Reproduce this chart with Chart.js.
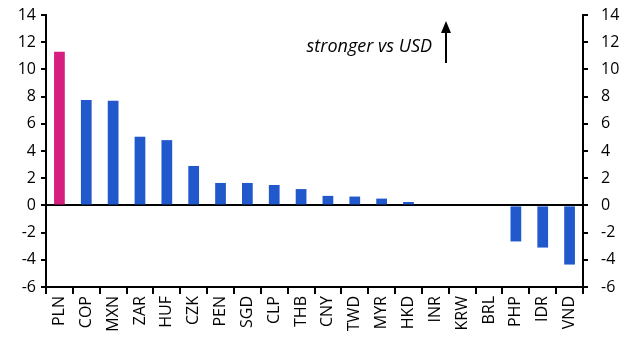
<!DOCTYPE html>
<html>
<head>
<meta charset="utf-8">
<script src="https://cdn.jsdelivr.net/npm/chart.js@4"></script>
<style>
    html, body { margin: 0; padding: 0; background: #fff; }
    #wrap { width: 633px; height: 354px; }
</style>
</head>
<body>
<div id="wrap"><canvas id="chart"></canvas></div>
<script>
// Currency moves vs USD (%)
const currencies = ['PLN', 'COP', 'MXN', 'ZAR', 'HUF', 'CZK', 'PEN', 'SGD', 'CLP', 'THB',
    'CNY', 'TWD', 'MYR', 'HKD', 'INR', 'KRW', 'BRL', 'PHP', 'IDR', 'VND'];
const changes = [11.3, 7.75, 7.7, 5.05, 4.8, 2.9, 1.65, 1.65, 1.5, 1.2,
    0.7, 0.65, 0.5, 0.25, 0, 0, 0, -2.65, -3.1, -4.35];
const yTicks = [-6, -4, -2, 0, 2, 4, 6, 8, 10, 12, 14];

const PINK = '#d51f7e';
const BLUE = '#2159cd';
const FONT = "'Open Sans', 'Noto Sans', sans-serif";

const barColors = currencies.map(c => c === 'PLN' ? PINK : BLUE);

// note + arrow in the top right
const notePlugin = {
    id: 'note',
    afterDraw(chart) {
        const ctx = chart.ctx;
        ctx.save();
        ctx.fillStyle = '#000';
        ctx.font = 'italic 18px ' + FONT;
        ctx.textAlign = 'right';
        ctx.textBaseline = 'middle';
        ctx.fillText('stronger vs USD', 432, 47);

        ctx.strokeStyle = '#000';
        ctx.lineWidth = 2;
        ctx.beginPath();
        ctx.moveTo(446, 63);
        ctx.lineTo(446, 30);
        ctx.stroke();
        ctx.beginPath();
        ctx.moveTo(446, 21);
        ctx.lineTo(441, 33);
        ctx.lineTo(451, 33);
        ctx.closePath();
        ctx.fill();
        ctx.restore();
    }
};

const yAxis = (position) => ({
    type: 'linear',
    position: position,
    min: -6,
    max: 14,
    afterBuildTicks: axis => { axis.ticks = yTicks.map(v => ({ value: v })); },
    afterFit: axis => {
        axis.width = position === 'left' ? 44 : 48;
        // keep the plot top/bottom independent of label padding
        axis.paddingTop = 0;
        axis.paddingBottom = 0;
    },
    border: { display: true, color: '#000', width: 2 },
    grid: {
        drawOnChartArea: position === 'left',
        color: c => c.tick && c.tick.value === 0 ? '#000' : 'rgba(0,0,0,0)',
        lineWidth: 2,
        tickColor: '#000',
        tickWidth: 2,
        tickLength: 5
    },
    ticks: {
        color: '#000',
        font: { family: FONT, size: 16 },
        padding: position === 'left' ? 5 : 13
    }
});

Chart.defaults.font.family = FONT;

new Chart(document.getElementById('chart'), {
    type: 'bar',
    data: {
        labels: currencies,
        datasets: [{
            data: changes,
            backgroundColor: barColors,
            barPercentage: 0.4,
            categoryPercentage: 1.0,
            yAxisID: 'y'
        }]
    },
    options: {
        responsive: true,
        maintainAspectRatio: false,
        animation: false,
        layout: { padding: { top: 15, left: 2, right: 2, bottom: 0 } },
        plugins: {
            legend: { display: false },
            tooltip: { enabled: false }
        },
        scales: {
            x: {
                afterFit: axis => { axis.height = 67; },
                border: { display: true, color: '#000', width: 2 },
                grid: {
                    offset: true,
                    drawOnChartArea: false,
                    color: '#000',
                    lineWidth: 2,
                    tickLength: 7
                },
                ticks: {
                    color: '#000',
                    font: { family: FONT, size: 16 },
                    minRotation: 90,
                    maxRotation: 90,
                    autoSkip: false,
                    padding: 2
                }
            },
            y: yAxis('left'),
            y2: yAxis('right')
        }
    },
    plugins: [notePlugin]
});
</script>
</body>
</html>
